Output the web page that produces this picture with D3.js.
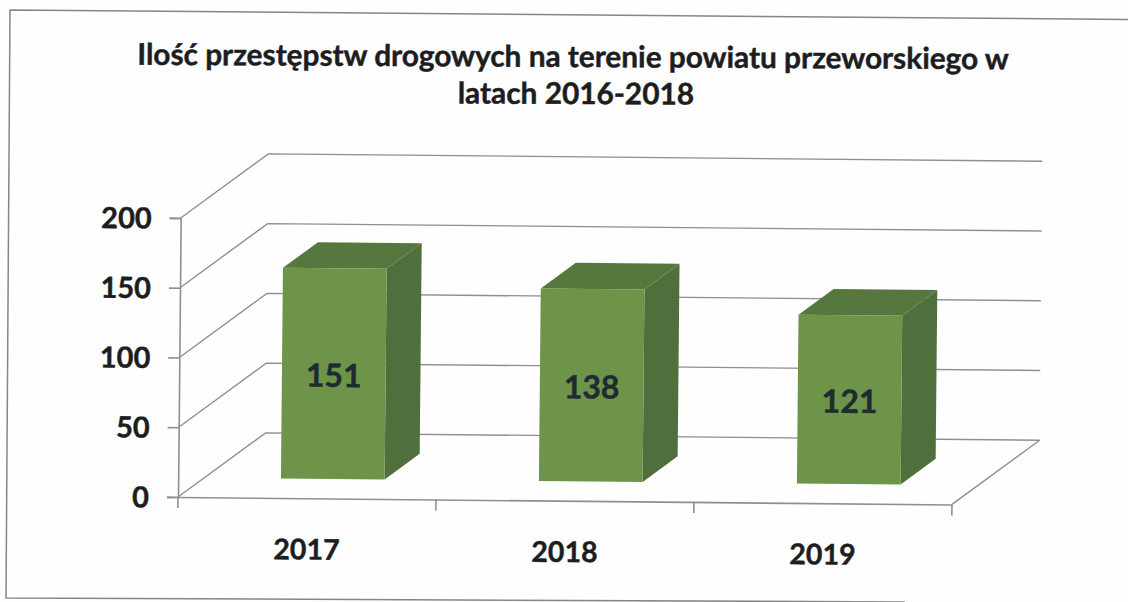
<!DOCTYPE html>
<html><head><meta charset="utf-8">
<script src="https://cdn.jsdelivr.net/npm/d3@7"></script>
<style>html,body{margin:0;padding:0;background:#fefefe}svg{display:block}text{font-family:Lato,"Open Sans",sans-serif;font-weight:700;fill:#1d1d1f;stroke:#1d1d1f;stroke-width:0.45px}</style>
</head><body><svg id="c" width="1128" height="602"></svg>
<script>
const titleLines = ["Ilość przestępstw drogowych na terenie powiatu przeworskiego w", "latach 2016-2018"];
const categories = ["2017", "2018", "2019"];
const values = [151, 138, 121];
const yTicks = [0, 50, 100, 150, 200];

const svg = d3.select("#c");
// frame of the page scan
svg.append("path").attr("d", "M1128,19.5 L10,10 L6,598 L905,602").attr("stroke", "#86868a").attr("stroke-width", 1.5).attr("fill", "none");

const g = svg.append("g").attr("transform", "translate(178,497) rotate(0.55)");
const W = 774, H = 279, DX = 87, DY = -65;
const x = d3.scaleBand().domain(categories).range([0, W]);
const y = d3.scaleLinear().domain([0, 200]).range([0, -H]);
const line = d3.line();
const grid = "#8e8e96";

// gridlines: wall + left side
g.selectAll("path.grid").data(yTicks).join("path").attr("class", "grid")
  .attr("d", v => line([[0, y(v)], [DX, y(v) + DY], [W + DX, y(v) + DY]]))
  .attr("fill", "none").attr("stroke", grid).attr("stroke-width", 1.4);
// floor right edge
g.append("path").attr("d", line([[W, 0], [W + DX, DY]])).attr("fill", "none").attr("stroke", grid).attr("stroke-width", 1.4);

// axes
const yAxis = d3.axisLeft(y).tickValues(yTicks).tickSize(11).tickPadding(18);
const xAxis = d3.axisBottom(x).tickSize(0).tickPadding(41);
const ya = g.append("g").call(yAxis);
const xa = g.append("g").call(xAxis);
[ya, xa].forEach(a => { a.select(".domain").attr("stroke", grid).attr("stroke-width", 1.6); a.selectAll(".tick line").attr("stroke", grid).attr("stroke-width", 1.6); });
ya.selectAll("text").style("font-size", "29px").attr("dy", "0.35em").attr("fill", null);
xa.selectAll("text").style("font-size", "28.5px").attr("fill", null);
xa.selectAll("line.edge").data(d3.range(categories.length + 1)).join("line").attr("class", "edge")
  .attr("x1", i => i * x.step()).attr("x2", i => i * x.step()).attr("y1", 0).attr("y2", 11)
  .attr("stroke", grid).attr("stroke-width", 1.6);

// 3D bars
const t0 = 0.30, t1 = 0.70, widthFrac = 0.402;
const bw = x.bandwidth() * widthFrac;
const bars = g.selectAll("g.bar").data(categories.map((c, i) => ({ c, v: values[i] }))).join("g").attr("class", "bar");
const X0 = d => x(d.c) + (x.bandwidth() - bw) / 2 + DX * t0 - 0.5;
const BY = DY * t0, dd = [DX * (t1 - t0), DY * (t1 - t0)];
bars.append("path").attr("fill", "#4f6f3d")
  .attr("d", d => line([[X0(d) + bw, BY], [X0(d) + bw + dd[0], BY + dd[1]], [X0(d) + bw + dd[0], BY + dd[1] + y(d.v)], [X0(d) + bw, BY + y(d.v)]]) + "Z");
bars.append("path").attr("fill", "#56773d")
  .attr("d", d => line([[X0(d), BY + y(d.v)], [X0(d) + dd[0], BY + dd[1] + y(d.v)], [X0(d) + bw + dd[0], BY + dd[1] + y(d.v)], [X0(d) + bw, BY + y(d.v)]]) + "Z");
bars.append("rect").attr("fill", "#6d9448")
  .attr("x", d => X0(d)).attr("y", d => BY + y(d.v)).attr("width", bw).attr("height", d => -y(d.v));
bars.append("text").attr("x", d => X0(d) + bw / 2).attr("y", d => BY + y(d.v) / 2 + 5)
  .attr("text-anchor", "middle").attr("dominant-baseline", "middle").style("font-size", "32px").style("fill", "#1f2a33").style("stroke", "#1f2a33").text(d => d.v);

// title
const tg = svg.append("g").attr("transform", "rotate(0.3 573 75)");
tg.selectAll("text").data(titleLines).join("text").attr("x", (d, i) => i ? 576 : 573).attr("y", (d, i) => i ? 104 : 67)
  .attr("text-anchor", "middle").style("font-size", "29.8px").text(d => d);
</script></body></html>
